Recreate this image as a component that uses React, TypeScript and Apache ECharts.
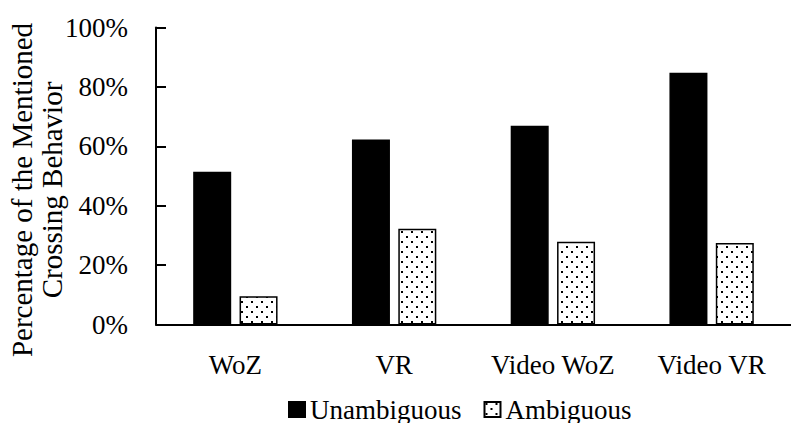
import React, { useEffect, useRef } from "react";
import * as echarts from "echarts";

const categories = ["WoZ", "VR", "Video WoZ", "Video VR"];
const unambiguous = [51.4, 62.3, 66.9, 84.8];
const ambiguous = [9.5, 32.2, 27.9, 27.4];
const yTicks = [0, 20, 40, 60, 80, 100];
const yAxisTitle = ["Percentage of the Mentioned", "Crossing Behavior"];

const FONT = "'Liberation Serif', 'Times New Roman', serif";

// Dotted fill used for the "Ambiguous" bars: white tile with two staggered dots.
function makeDotPattern(): HTMLCanvasElement {
  const c = document.createElement("canvas");
  c.width = 10;
  c.height = 10;
  const ctx = c.getContext("2d")!;
  ctx.fillStyle = "#ffffff";
  ctx.fillRect(0, 0, 10, 10);
  ctx.fillStyle = "#000000";
  ctx.fillRect(1, 1, 2, 2);
  ctx.fillRect(6, 6, 2, 2);
  return c;
}

export default function App() {
  const ref = useRef<HTMLDivElement>(null);

  useEffect(() => {
    if (!ref.current) return;
    document.body.style.margin = "0";
    const chart = echarts.init(ref.current, null, { renderer: "svg" });
    const pattern = {
      image: makeDotPattern(),
      repeat: "repeat",
      imageWidth: 10,
      imageHeight: 10,
    };

    chart.setOption({
      animation: false,
      backgroundColor: "#ffffff",
      textStyle: { fontFamily: FONT, color: "#000" },
      grid: { left: 156, top: 27.5, width: 644, height: 297, containLabel: false },
      legend: {
        left: 283,
        top: 391,
        icon: "rect",
        itemWidth: 16,
        itemHeight: 15,
        itemGap: 22,
        textStyle: { fontFamily: FONT, fontSize: 27, color: "#000" },
        data: ["Unambiguous", "Ambiguous"],
      },
      xAxis: {
        type: "category",
        data: categories,
        axisLine: { lineStyle: { color: "#000", width: 2 } },
        axisTick: { show: false },
        axisLabel: { fontFamily: FONT, fontSize: 27, color: "#000", margin: 27, interval: 0 },
      },
      yAxis: {
        type: "value",
        min: yTicks[0],
        max: yTicks[yTicks.length - 1],
        interval: 20,
        axisLine: { show: true, lineStyle: { color: "#000", width: 2 } },
        axisTick: { show: true, inside: true, length: 10, lineStyle: { color: "#000", width: 2 } },
        splitLine: { show: false },
        axisLabel: {
          fontFamily: FONT,
          fontSize: 27,
          color: "#000",
          margin: 28,
          formatter: (v: number) => `${v}%`,
        },
      },
      graphic: [
        {
          type: "text",
          x: 37,
          y: 190,
          rotation: Math.PI / 2,
          style: {
            text: yAxisTitle.join("\n"),
            fontFamily: FONT,
            fontSize: 29,
            lineHeight: 30,
            fill: "#000",
            align: "center",
            verticalAlign: "middle",
          },
        },
      ],
      series: [
        {
          name: "Unambiguous",
          type: "bar",
          data: unambiguous,
          barWidth: 38,
          barGap: "22%",
          itemStyle: { color: "#000", borderColor: "#000", borderWidth: 1.5 },
        },
        {
          name: "Ambiguous",
          type: "bar",
          data: ambiguous,
          barWidth: 38,
          itemStyle: { color: pattern, borderColor: "#000", borderWidth: 1.5 },
        },
      ],
    });

    return () => chart.dispose();
  }, []);

  return (
    <div
      ref={ref}
      style={{ position: "fixed", left: 0, top: 0, width: 791, height: 423, background: "#fff" }}
    />
  );
}
